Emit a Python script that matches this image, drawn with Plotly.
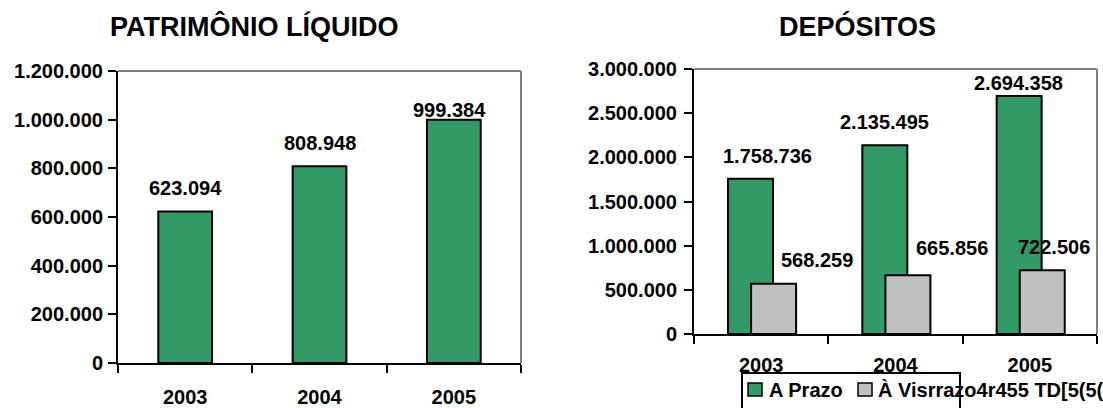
import plotly.graph_objects as go

# ---- data ----
years = ["2003", "2004", "2005"]
patrimonio = [623094, 808948, 999384]
dep_prazo = [1758736, 2135495, 2694358]
dep_vista = [568259, 665856, 722506]
legend_names = ["A Prazo", "À Visrrazo4r455 TD[5(5(5"]
titles = ["PATRIMÔNIO LÍQUIDO", "DEPÓSITOS"]
left_ticks = [0, 200000, 400000, 600000, 800000, 1000000, 1200000]
right_ticks = [0, 500000, 1000000, 1500000, 2000000, 2500000, 3000000]

# ---- style ----
W, H = 1103, 408
GREEN = "#339966"
GRAY = "#C0C0C0"
FONT = "Liberation Sans, Arial, sans-serif"


def fmt(v):
    return f"{v:,}".replace(",", ".")


def px_x(p):
    return p / W


def px_y(p):
    return 1 - p / H


fig = go.Figure()

fig.add_trace(go.Bar(
    x=years, y=patrimonio, xaxis="x", yaxis="y", width=0.4,
    marker=dict(color=GREEN, line=dict(color="black", width=2)),
    showlegend=False, hoverinfo="skip"))

fig.add_trace(go.Bar(
    x=years, y=dep_prazo, xaxis="x2", yaxis="y2", width=0.335, offset=-0.247,
    marker=dict(color=GREEN, line=dict(color="black", width=2)),
    name=legend_names[0], showlegend=False, hoverinfo="skip"))
fig.add_trace(go.Bar(
    x=years, y=dep_vista, xaxis="x2", yaxis="y2", width=0.335, offset=-0.075,
    marker=dict(color=GRAY, line=dict(color="black", width=2)),
    name=legend_names[1], showlegend=False, hoverinfo="skip"))

tickfont = dict(family=FONT, size=20, color="black", weight="bold")

common_x = dict(type="category", range=[-0.5, 2.5], showline=True, linecolor="black",
                linewidth=2, ticks="outside", tickson="boundaries", ticklen=8,
                tickwidth=2, tickcolor="black", showgrid=False, zeroline=False,
                tickfont=tickfont, fixedrange=True, automargin=False)
common_y = dict(showline=True, linecolor="black", linewidth=2, ticks="outside",
                ticklen=8, tickwidth=2, tickcolor="black", showgrid=False,
                zeroline=False, tickfont=tickfont, tickformat=",d", fixedrange=True,
                automargin=False)

fig.update_layout(
    width=W, height=H,
    margin=dict(l=0, r=0, t=0, b=0, pad=0),
    paper_bgcolor="white", plot_bgcolor="white",
    separators=",.",
    barmode="overlay",
    showlegend=False,
    xaxis=dict(common_x, domain=[px_x(118), px_x(521)], anchor="y", ticklabelstandoff=15),
    yaxis=dict(common_y, domain=[px_y(363), px_y(71)], range=[0, 1200000],
               tickvals=left_ticks, anchor="x", ticklabelstandoff=1),
    xaxis2=dict(common_x, domain=[px_x(694), px_x(1097)], anchor="y2", ticklabelstandoff=12),
    yaxis2=dict(common_y, domain=[px_y(334), px_y(69)], range=[0, 3000000],
                tickvals=right_ticks, anchor="x2", ticklabelstandoff=3),
)

# gray top / right frame of each plot area
for xr, yr in (("x domain", "y domain"), ("x2 domain", "y2 domain")):
    fig.add_shape(type="line", xref=xr, yref=yr, x0=0, x1=1, y0=1, y1=1,
                  line=dict(color="#808080", width=2))
    fig.add_shape(type="line", xref=xr, yref=yr, x0=1, x1=1, y0=0, y1=1,
                  line=dict(color="#808080", width=2))

labfont = dict(family=FONT, size=20, color="black", weight="bold")

# data labels (category index used as x position)
left_dx = [0, 0, -4]
left_dy = [23, 23, 10]
for i in range(len(years)):
    fig.add_annotation(x=i, y=patrimonio[i], xref="x", yref="y", text=fmt(patrimonio[i]),
                       showarrow=False, font=labfont, xanchor="center", yanchor="middle",
                       xshift=left_dx[i], yshift=left_dy[i])

prazo_dx = [18 - 11.5, -11.5, -11.5]
prazo_dy = [23, 23, 13]
vista_dx = [44 + 11.5, 45 + 11.5, 13 + 11.5]
vista_dy = [24, 27, 23]
for i in range(len(years)):
    fig.add_annotation(x=i, y=dep_prazo[i], xref="x2", yref="y2", text=fmt(dep_prazo[i]),
                       showarrow=False, font=labfont, xanchor="center", yanchor="middle",
                       xshift=prazo_dx[i], yshift=prazo_dy[i])
    fig.add_annotation(x=i, y=dep_vista[i], xref="x2", yref="y2", text=fmt(dep_vista[i]),
                       showarrow=False, font=labfont, xanchor="center", yanchor="middle",
                       xshift=vista_dx[i], yshift=vista_dy[i])

# titles
titlefont = dict(family=FONT, size=27, color="black", weight="bold")
fig.add_annotation(x=px_x(254), y=px_y(26), xref="paper", yref="paper", text=titles[0],
                   showarrow=False, font=titlefont, xanchor="center", yanchor="middle")
fig.add_annotation(x=px_x(857), y=px_y(26), xref="paper", yref="paper", text=titles[1],
                   showarrow=False, font=titlefont, xanchor="center", yanchor="middle")

# legend (drawn manually: box narrower than its text, as in the reference)
fig.add_shape(type="rect", xref="paper", yref="paper", x0=px_x(742), x1=px_x(960),
              y0=px_y(420), y1=px_y(373), line=dict(color="black", width=2),
              fillcolor="rgba(0,0,0,0)")
fig.add_shape(type="rect", xref="paper", yref="paper", x0=px_x(748), x1=px_x(762),
              y0=px_y(396), y1=px_y(383), line=dict(color="black", width=1.5),
              fillcolor=GREEN)
fig.add_shape(type="rect", xref="paper", yref="paper", x0=px_x(858), x1=px_x(872),
              y0=px_y(396), y1=px_y(383), line=dict(color="black", width=1.5),
              fillcolor=GRAY)
fig.add_annotation(x=px_x(767), y=px_y(390), xref="paper", yref="paper", text=legend_names[0],
                   showarrow=False, font=labfont, xanchor="left", yanchor="middle")
fig.add_annotation(x=px_x(876), y=px_y(390), xref="paper", yref="paper", text=legend_names[1],
                   showarrow=False, font=labfont, xanchor="left", yanchor="middle")

# remove the default page margin so the figure sits at the window's top-left corner
fig.write_html("out.html", config={"displayModeBar": False},
               post_script="document.body.style.margin='0px';")
